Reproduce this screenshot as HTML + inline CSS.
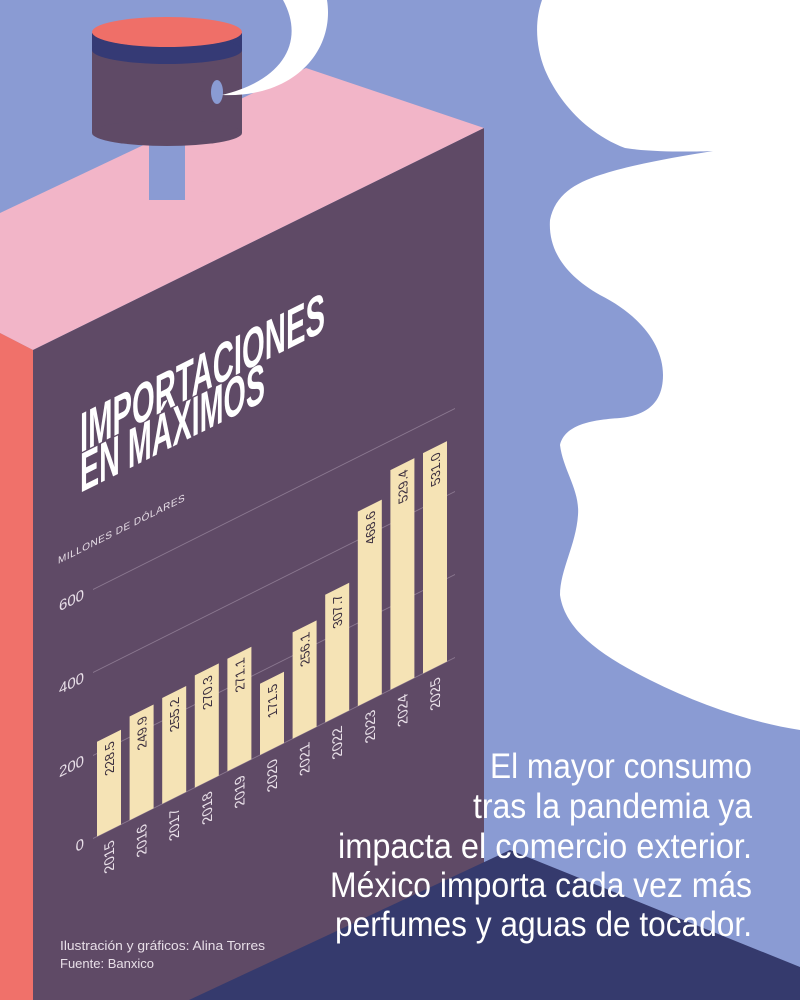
<!DOCTYPE html>
<html><head><meta charset="utf-8"><style>
html,body{margin:0;padding:0;background:#8a9bd3}
svg{display:block}
</style></head><body>
<svg width="800" height="1000" viewBox="0 0 800 1000" xmlns="http://www.w3.org/2000/svg">
<rect width="800" height="1000" fill="#8a9bd3"/>
<!-- cloud -->
<path d="M542 0 C535 20 535 45 545 70 C560 105 590 135 625 148 C650 152 690 152 713 151 C670 158 630 165 600 175 C575 183 555 195 550 220 C548 250 565 275 600 295 C640 315 663 345 663 375 C663 400 650 415 620 418 C590 420 565 425 560 445 C563 470 580 490 578 515 C576 545 560 570 560 595 C565 630 600 655 650 680 C700 705 750 722 800 730 L800 0 Z" fill="#ffffff"/>
<!-- pink top -->
<path d="M0 213 L306 68 L484 128 L33 350 L0 333 Z" fill="#f2b5c8"/>
<!-- red side -->
<path d="M0 333 L33 350 L33 1000 L0 1000 Z" fill="#f0716a"/>
<!-- purple front -->
<path d="M33 350 L484 128 L484 1000 L33 1000 Z" fill="#5f4a66"/>
<!-- navy triangle -->
<path d="M189 1000 L510 850 L800 967 L800 1000 Z" fill="#353a6d"/>
<!-- cap -->
<rect x="149" y="135" width="36" height="65" fill="#8a9bd3"/>
<rect x="92" y="33" width="150" height="100" fill="#5f4a66"/>
<ellipse cx="167" cy="133" rx="75" ry="13" fill="#5f4a66"/>
<rect x="92" y="33" width="150" height="17" fill="#353a75"/>
<ellipse cx="167" cy="50" rx="75" ry="14" fill="#353a75"/>
<ellipse cx="167" cy="32" rx="75" ry="15" fill="#ef6f68"/>
<ellipse cx="217" cy="92" rx="6" ry="12" fill="#8a9bd3"/>
<path d="M283 0 C305 40 285 80 222 95 C295 98 335 50 327 0 Z" fill="#ffffff"/>
<!-- skewed chart -->
<g transform="matrix(1,-0.5,0,1,0,0)" font-family="'Liberation Sans Narrow','Liberation Sans',sans-serif">
  <text x="80" y="493" fill="#fff" font-size="56" font-weight="bold" textLength="245" lengthAdjust="spacingAndGlyphs">IMPORTACIONES</text>
  <text x="80" y="533" fill="#fff" font-size="56" font-weight="bold" textLength="185" lengthAdjust="spacingAndGlyphs">EN MÁXIMOS</text>
  <text x="58" y="593" fill="#e8dfe8" font-size="10" letter-spacing="0.5">MILLONES DE DÓLARES</text>
  <g stroke="#8a7890" stroke-width="1">
    <line x1="93" y1="885" x2="455" y2="885"/>
    <line x1="93" y1="802" x2="455" y2="802"/>
    <line x1="93" y1="719" x2="455" y2="719"/>
    <line x1="93" y1="636" x2="455" y2="636"/>
  </g>
  <g fill="#e8dfe8" font-size="15" text-anchor="end">
    <text x="84" y="890">0</text>
    <text x="84" y="807">200</text>
    <text x="84" y="724">400</text>
    <text x="84" y="641">600</text>
  </g>
  <g fill="#f5e3b5">
    <rect x="97" y="790.2" width="24" height="94.8"/>
    <rect x="129.6" y="781.3" width="24" height="103.7"/>
    <rect x="162.2" y="779.1" width="24" height="105.9"/>
    <rect x="194.8" y="772.8" width="24" height="112.2"/>
    <rect x="227.4" y="772.5" width="24" height="112.5"/>
    <rect x="260" y="813.8" width="24" height="71.2"/>
    <rect x="292.6" y="778.7" width="24" height="106.3"/>
    <rect x="325.2" y="757.3" width="24" height="127.7"/>
    <rect x="357.8" y="690.5" width="24" height="194.5"/>
    <rect x="390.4" y="665.3" width="24" height="219.7"/>
    <rect x="423" y="664.6" width="24" height="220.4"/>
  </g>
  <g fill="#3a2e3e" font-size="13" text-anchor="end">
    <text transform="translate(114,797) rotate(-90)">228.5</text>
    <text transform="translate(146.6,788) rotate(-90)">249.9</text>
    <text transform="translate(179.2,786) rotate(-90)">255.2</text>
    <text transform="translate(211.8,780) rotate(-90)">270.3</text>
    <text transform="translate(244.4,779) rotate(-90)">271.1</text>
    <text transform="translate(277,821) rotate(-90)">171.5</text>
    <text transform="translate(309.6,786) rotate(-90)">256.1</text>
    <text transform="translate(342.2,764) rotate(-90)">307.7</text>
    <text transform="translate(374.8,697) rotate(-90)">468.6</text>
    <text transform="translate(407.4,672) rotate(-90)">529.4</text>
    <text transform="translate(440,671) rotate(-90)">531.0</text>
  </g>
  <g fill="#e8dfe8" font-size="14" text-anchor="end">
    <text transform="translate(114,896) rotate(-90)">2015</text>
    <text transform="translate(146.6,896) rotate(-90)">2016</text>
    <text transform="translate(179.2,896) rotate(-90)">2017</text>
    <text transform="translate(211.8,896) rotate(-90)">2018</text>
    <text transform="translate(244.4,896) rotate(-90)">2019</text>
    <text transform="translate(277,896) rotate(-90)">2020</text>
    <text transform="translate(309.6,896) rotate(-90)">2021</text>
    <text transform="translate(342.2,896) rotate(-90)">2022</text>
    <text transform="translate(374.8,896) rotate(-90)">2023</text>
    <text transform="translate(407.4,896) rotate(-90)">2024</text>
    <text transform="translate(440,896) rotate(-90)">2025</text>
  </g>
</g>
<!-- text block -->
<g fill="#fff" font-family="'Liberation Sans',sans-serif" font-size="35" text-anchor="end">
  <text x="752" y="778" textLength="262" lengthAdjust="spacingAndGlyphs">El mayor consumo</text>
  <text x="752" y="818" textLength="279" lengthAdjust="spacingAndGlyphs">tras la pandemia ya</text>
  <text x="752" y="858" textLength="414" lengthAdjust="spacingAndGlyphs">impacta el comercio exterior.</text>
  <text x="752" y="897" textLength="422" lengthAdjust="spacingAndGlyphs">México importa cada vez más</text>
  <text x="752" y="936" textLength="417" lengthAdjust="spacingAndGlyphs">perfumes y aguas de tocador.</text>
</g>
<g fill="#e8dfe8" font-family="'Liberation Sans Narrow','Liberation Sans',sans-serif" font-size="13">
  <text x="60" y="950" textLength="205" lengthAdjust="spacingAndGlyphs">Ilustración y gráficos: Alina Torres</text>
  <text x="60" y="968">Fuente: Banxico</text>
</g>
</svg>
</body></html>
